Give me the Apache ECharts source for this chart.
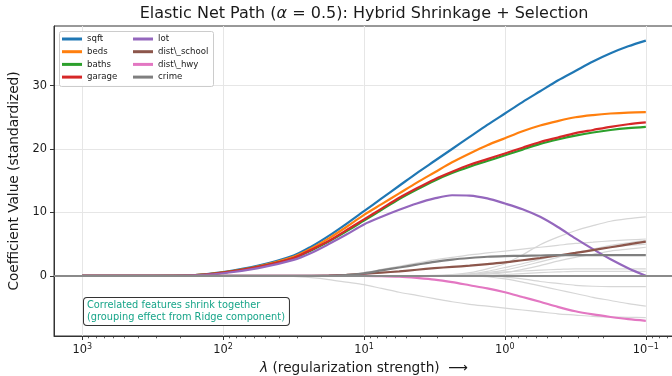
<!DOCTYPE html>
<html>
<head>
<meta charset="utf-8">
<script src="https://cdn.jsdelivr.net/npm/echarts@6/dist/echarts.min.js"></script>
<style>
    html, body { margin: 0; padding: 0; background: #fff; }
    #chart { width: 672px; height: 376px; }
</style>
</head>
<body>
<div id="chart"></div>
<script>
// log10(lambda) sample grid, large lambda on the left
var logLambda = [3, 2.5, 2.25, 2, 1.75, 1.5, 1.375, 1.25, 1.125, 1, 0.875, 0.75, 0.625, 0.5, 0.375, 0.25, 0.125, 0,
                 -0.125, -0.25, -0.375, -0.5, -0.625, -0.75, -0.875, -1];

var sqft       = [0, 0, 0.05, 0.6, 1.6, 3.2, 4.6, 6.3, 8.2, 10.2, 12.2, 14.2, 16.2, 18.1, 20.0, 21.9, 23.8, 25.6, 27.4, 29.1, 30.8, 32.3, 33.8, 35.1, 36.2, 37.1];
var beds       = [0, 0, 0.05, 0.55, 1.5, 3.0, 4.3, 5.9, 7.7, 9.6, 11.3, 13.0, 14.7, 16.3, 17.9, 19.3, 20.6, 21.7, 22.8, 23.7, 24.4, 25.0, 25.35, 25.6, 25.75, 25.8];
var baths      = [0, 0, 0.04, 0.5, 1.4, 2.75, 4.0, 5.4, 7.0, 8.7, 10.4, 12.1, 13.6, 15.0, 16.2, 17.2, 18.1, 19.0, 19.9, 20.8, 21.5, 22.1, 22.6, 23.0, 23.3, 23.5];
var garage     = [0, 0, 0.04, 0.5, 1.4, 2.8, 4.1, 5.5, 7.2, 8.9, 10.6, 12.3, 13.8, 15.2, 16.4, 17.5, 18.4, 19.3, 20.2, 21.1, 21.8, 22.5, 23.0, 23.5, 23.9, 24.2];
var lot        = [0, 0, 0.03, 0.4, 1.2, 2.5, 3.6, 5.0, 6.5, 8.1, 9.3, 10.4, 11.4, 12.2, 12.7, 12.65, 12.2, 11.4, 10.5, 9.3, 7.7, 5.9, 4.2, 2.6, 1.2, 0];
var distSchool = [0, 0, 0, 0, 0, 0, 0, 0.05, 0.15, 0.3, 0.5, 0.7, 0.95, 1.2, 1.4, 1.6, 1.85, 2.1, 2.45, 2.8, 3.2, 3.6, 4.05, 4.5, 4.95, 5.4];
var distHwy    = [0, 0, 0, 0, 0, 0, 0, 0, 0, 0, -0.05, -0.15, -0.35, -0.6, -1.0, -1.5, -2.0, -2.6, -3.35, -4.1, -4.9, -5.6, -6.1, -6.5, -6.85, -7.1];
var crime      = [0, 0, 0, 0, 0, 0, 0, 0, 0.1, 0.4, 0.85, 1.3, 1.75, 2.2, 2.55, 2.8, 3.0, 3.1, 3.15, 3.2, 3.25, 3.25, 3.25, 3.25, 3.25, 3.25];

// unnamed noise features (light grey)
var noise1  = [0, 0, 0, 0, 0, -0.1, -0.3, -0.6, -1.0, -1.4, -2.0, -2.6, -3.1, -3.6, -4.1, -4.5, -4.8, -5.1, -5.4, -5.7, -6.0, -6.2, -6.4, -6.5, -6.55, -6.6];
var noise2  = [0, 0, 0, 0, 0, 0, 0, 0, 0, 0, 0, 0, 0, 0.05, 0.2, 0.5, 1.1, 1.9, 3.3, 4.9, 6.1, 7.1, 7.9, 8.6, 9.0, 9.3];
var noise3  = [0, 0, 0, 0, 0, 0, 0, 0, 0.2, 0.5, 1.0, 1.5, 2.0, 2.5, 2.9, 3.3, 3.6, 3.9, 4.2, 4.5, 4.8, 5.1, 5.3, 5.5, 5.65, 5.8];
var noise4  = [0, 0, 0, 0, 0, 0, 0, 0, 0, 0, 0, 0, 0, 0, 0.1, 0.3, 0.7, 1.3, 1.9, 2.6, 3.2, 3.7, 4.1, 4.5, 4.8, 5.0];
var noise5  = [0, 0, 0, 0, 0, 0, 0, 0, 0, 0, 0, 0, 0, 0, 0, 0.1, 0.25, 0.5, 1.0, 1.6, 2.3, 2.9, 3.4, 3.9, 4.2, 4.5];
var noise6  = [0, 0, 0, 0, 0, 0, 0, 0, 0, 0, 0, 0, 0, 0, 0.05, 0.2, 0.4, 0.6, 0.75, 0.9, 1.0, 1.1, 1.1, 1.1, 1.1, 1.1];
var noise7  = [0, 0, 0, 0, 0, 0, 0, 0, 0, 0, 0, 0, 0, 0, 0, 0, 0.05, 0.2, 0.35, 0.5, 0.6, 0.7, 0.7, 0.7, 0.7, 0.7];
var noise8  = [0, 0, 0, 0, 0, 0, 0, 0, 0, 0, 0, 0, 0, 0, 0, 0, 0, -0.2, -0.5, -0.9, -1.2, -1.5, -1.65, -1.7, -1.7, -1.7];
var noise9  = [0, 0, 0, 0, 0, 0, 0, 0, 0, 0, 0, 0, 0, 0, 0, 0, -0.15, -0.5, -1.0, -1.6, -2.2, -2.8, -3.4, -3.9, -4.4, -4.8];
var noise10 = [0, 0, 0, 0, 0, 0, 0, 0, 0, 0, 0, 0, 0, 0, 0.05, 0.2, 0.5, 0.9, 1.5, 2.2, 2.9, 3.6, 4.2, 4.8, 5.2, 5.6];

var xMajorTicks = [3, 2, 1, 0, -1];
var yTicks = [0, 10, 20, 30];

var FONT = 'DejaVu Sans';
var TEXT = '#1a1a1a';

var mainSeries = [
    { name: 'sqft', values: sqft, color: '#1f77b4' },
    { name: 'beds', values: beds, color: '#ff7f0e' },
    { name: 'baths', values: baths, color: '#2ca02c' },
    { name: 'garage', values: garage, color: '#d62728' },
    { name: 'lot', values: lot, color: '#9467bd' },
    { name: 'dist\\_school', values: distSchool, color: '#8c564b' },
    { name: 'dist\\_hwy', values: distHwy, color: '#e377c2' },
    { name: 'crime', values: crime, color: '#7f7f7f' }
];
var noiseSeries = [noise1, noise2, noise3, noise4, noise5, noise6, noise7, noise8, noise9, noise10];

function pairs(vals) {
    return logLambda.map(function (e, i) { return [e, vals[i]]; });
}

// log minor ticks (2..9 x 10^k) inside the visible range
var xMinorTicks = [];
for (var k = -2; k <= 3; k++) {
    for (var m = 2; m <= 9; m++) {
        var v = k + Math.log10(m);
        if (v > -1.2 && v < 3.2) xMinorTicks.push(v);
    }
}

var series = [];
noiseSeries.forEach(function (vals, i) {
    var s = {
        type: 'line', data: pairs(vals), showSymbol: false, symbol: 'none', smooth: 0.3,
        lineStyle: { color: '#d6d6d6', width: 1.2 }, silent: true, z: 2
    };
    if (i === 0) {
        s.markLine = {
            silent: true, symbol: 'none', label: { show: false },
            lineStyle: { color: '#8a8a8a', width: 1.8, type: 'solid' },
            data: [{ yAxis: 0 }]
        };
    }
    series.push(s);
});
mainSeries.forEach(function (d) {
    series.push({
        type: 'line', name: d.name, data: pairs(d.values), showSymbol: false, symbol: 'none', smooth: 0.3,
        color: d.color, lineStyle: { color: d.color, width: 2.2 }, z: 3
    });
});

var legendCommon = {
    orient: 'vertical', top: 33, padding: 0, itemWidth: 20, itemHeight: 3, itemGap: 0.7,
    icon: 'rect', textStyle: { fontFamily: FONT, fontSize: 8.6, color: TEXT, lineHeight: 12 }
};

var chart = echarts.init(document.getElementById('chart'));
chart.setOption({
    animation: false,
    backgroundColor: '#fff',
    title: {
        text: '{n|Elastic Net Path (}{i|α}{n| = 0.5): Hybrid Shrinkage + Selection}',
        left: 364, top: 6, textAlign: 'center', padding: 0,
        textStyle: {
            fontWeight: 'normal',
            rich: {
                n: { fontFamily: FONT, fontSize: 16, color: TEXT, fontWeight: 'normal' },
                i: { fontFamily: FONT, fontSize: 16, color: TEXT, fontWeight: 'normal', fontStyle: 'italic' }
            }
        }
    },
    legend: [
        Object.assign({ left: 62, data: ['sqft', 'beds', 'baths', 'garage'] }, legendCommon),
        Object.assign({ left: 133, data: ['lot', 'dist\\_school', 'dist\\_hwy', 'crime'] }, legendCommon)
    ],
    graphic: [
        {
            type: 'rect', left: 59, top: 31, z: 3, silent: true,
            shape: { width: 154, height: 55, r: 2 },
            style: { fill: 'rgba(255,255,255,0.85)', stroke: '#cccccc', lineWidth: 1 }
        },
        {
            type: 'text', left: 83, top: 297, z: 10, silent: true,
            style: {
                text: 'Correlated features shrink together\n(grouping effect from Ridge component)',
                fontFamily: FONT, fontSize: 9.8, lineHeight: 11.5, fill: '#17a589',
                backgroundColor: '#fff', borderColor: '#333', borderWidth: 1, borderRadius: 3,
                padding: [2, 4, 2, 3]
            }
        }
    ],
    grid: {
        left: 54, right: -2, top: 26, bottom: 40, show: true,
        borderColor: '#333', borderWidth: 1, backgroundColor: 'transparent',
        containLabel: false, outerBoundsMode: 'none'
    },
    xAxis: [
        {
            type: 'value', min: -1.2, max: 3.2, inverse: true, position: 'bottom',
            name: '{i|λ}{n| (regularization strength)  ⟶}', nameLocation: 'middle', nameGap: 25,
            nameTextStyle: {
                rich: {
                    n: { fontFamily: FONT, fontSize: 13.7, color: TEXT },
                    i: { fontFamily: FONT, fontSize: 13.7, color: TEXT, fontStyle: 'italic' }
                }
            },
            axisLine: { show: true, onZero: false, lineStyle: { color: '#333', width: 1 } },
            axisTick: { show: true, inside: false, length: 4, customValues: xMajorTicks, lineStyle: { color: '#333' } },
            axisLabel: {
                customValues: xMajorTicks, margin: 7,
                formatter: function (v) {
                    var s = v < 0 ? '−' + (-v) : String(v);
                    return '{b|10}{s|' + s + '}';
                },
                rich: {
                    b: { fontFamily: FONT, fontSize: 11.4, color: TEXT, lineHeight: 15 },
                    s: { fontFamily: FONT, fontSize: 8, color: TEXT, verticalAlign: 'top', lineHeight: 10 }
                }
            },
            splitLine: { show: true, lineStyle: { color: '#e6e6e6', width: 1 } }
        },
        {
            type: 'value', min: -1.2, max: 3.2, inverse: true, position: 'bottom',
            axisLine: { show: false, onZero: false },
            axisTick: { show: true, inside: false, length: 2.3, customValues: xMinorTicks, lineStyle: { color: '#333', width: 0.8 } },
            axisLabel: { show: false },
            splitLine: { show: false }
        }
    ],
    yAxis: {
        type: 'value', min: -9.5, max: 39.4, position: 'left',
        name: 'Coefficient Value (standardized)', nameLocation: 'middle', nameGap: 30,
        nameTextStyle: { fontFamily: FONT, fontSize: 13.7, color: TEXT },
        axisLine: { show: true, onZero: false, lineStyle: { color: '#333', width: 1 } },
        axisTick: { show: true, inside: false, length: 4, customValues: yTicks, lineStyle: { color: '#333' } },
        axisLabel: { customValues: yTicks, margin: 7, fontFamily: FONT, fontSize: 11.4, color: TEXT },
        splitLine: { show: true, lineStyle: { color: '#e6e6e6', width: 1 } }
    },
    series: series
});
</script>
</body>
</html>
